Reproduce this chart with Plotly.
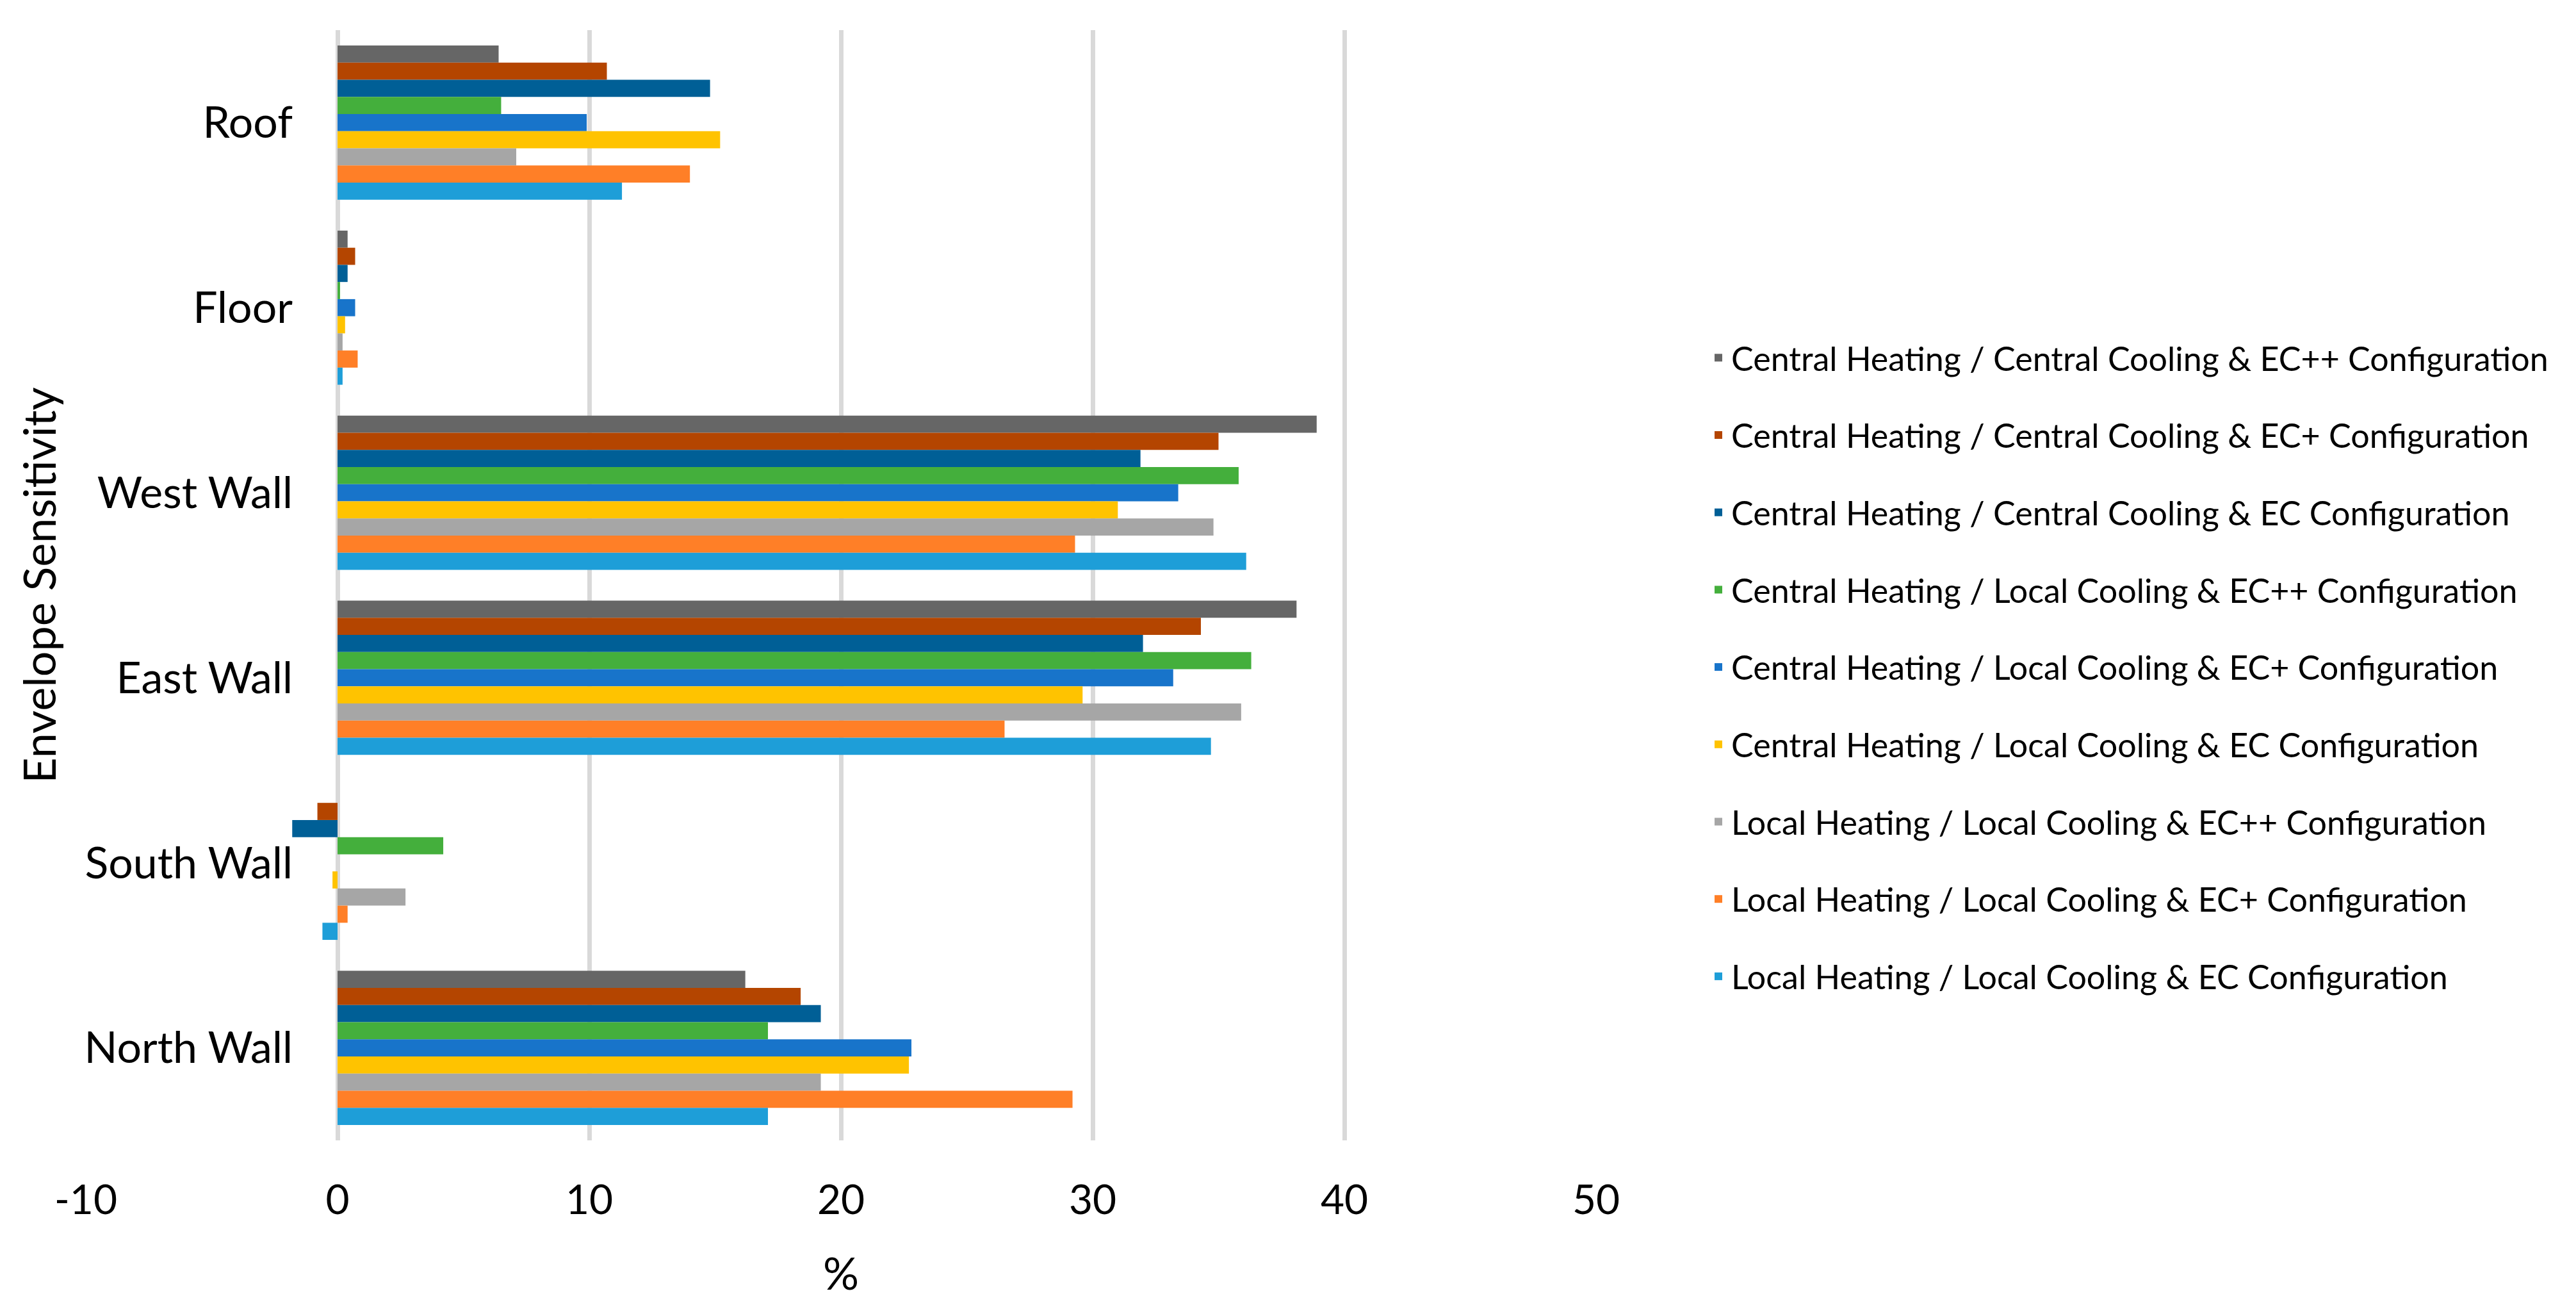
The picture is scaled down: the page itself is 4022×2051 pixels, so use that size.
import plotly.graph_objects as go

# ---- data ----
categories = ["Roof", "Floor", "West Wall", "East Wall", "South Wall", "North Wall"]

series_names = [
    "Central Heating / Central Cooling & EC++ Configuration",
    "Central Heating / Central Cooling & EC+ Configuration",
    "Central Heating / Central Cooling & EC Configuration",
    "Central Heating / Local Cooling & EC++ Configuration",
    "Central Heating / Local Cooling & EC+ Configuration",
    "Central Heating / Local Cooling & EC Configuration",
    "Local Heating / Local Cooling & EC++ Configuration",
    "Local Heating / Local Cooling & EC+ Configuration",
    "Local Heating / Local Cooling & EC Configuration",
]

ch_cc_ecpp = [6.4, 0.4, 38.9, 38.1, 0.0, 16.2]
ch_cc_ecp = [10.7, 0.7, 35.0, 34.3, -0.8, 18.4]
ch_cc_ec = [14.8, 0.4, 31.9, 32.0, -1.8, 19.2]
ch_lc_ecpp = [6.5, 0.1, 35.8, 36.3, 4.2, 17.1]
ch_lc_ecp = [9.9, 0.7, 33.4, 33.2, 0.0, 22.8]
ch_lc_ec = [15.2, 0.3, 31.0, 29.6, -0.2, 22.7]
lh_lc_ecpp = [7.1, 0.2, 34.8, 35.9, 2.7, 19.2]
lh_lc_ecp = [14.0, 0.8, 29.3, 26.5, 0.4, 29.2]
lh_lc_ec = [11.3, 0.2, 36.1, 34.7, -0.6, 17.1]

series_values = [ch_cc_ecpp, ch_cc_ecp, ch_cc_ec, ch_lc_ecpp, ch_lc_ecp,
                 ch_lc_ec, lh_lc_ecpp, lh_lc_ecp, lh_lc_ec]

colors = ["#666666", "#B44500", "#005F96", "#44AF3C", "#1874CA",
          "#FFC300", "#A6A6A6", "#FF7F27", "#1E9ED8"]

x_tickvals = [-10, 0, 10, 20, 30, 40, 50]
x_ticktext = ["-10", "0", "10", "20", "30", "40", "50"]

# ---- figure ----
W, H = 4022, 2051
FONT = "Lato"
legend_font = 52
item_h = legend_font * 1.3 + 3
row_pitch = 120.7

fig = go.Figure()
for i, (name, vals, col) in enumerate(zip(series_names, series_values, colors)):
    fig.add_trace(go.Bar(
        y=categories, x=vals, name=name, orientation="h",
        marker=dict(color=col, line=dict(width=0)),
        legendgroup=f"g{i}",
    ))

fig.update_layout(
    width=W, height=H,
    margin=dict(l=126, r=W - 2484, t=39, b=H - 1772, pad=0),
    paper_bgcolor="white", plot_bgcolor="white",
    barmode="group", bargap=0.167, bargroupgap=0,
    font=dict(family=FONT, color="#000000"),
    showlegend=True,
    legend=dict(
        x=2655 / W, xref="container", xanchor="left",
        y=1 - 510 / H, yref="container", yanchor="top",
        maxheight=1500,
        traceorder="grouped", tracegroupgap=row_pitch - item_h,
        font=dict(family=FONT, size=legend_font, color="#000000"),
        bgcolor="rgba(0,0,0,0)", borderwidth=0,
    ),
    xaxis=dict(
        range=[-10, 50], tickvals=x_tickvals, ticktext=x_ticktext,
        showgrid=True, gridcolor="#D9D9D9", gridwidth=7,
        zeroline=True, zerolinecolor="#D9D9D9", zerolinewidth=7,
        showline=False, ticks="",
        tickfont=dict(family=FONT, size=64, color="#000000"),
        ticklabelstandoff=50,
        title=dict(text="%", font=dict(family=FONT, size=70, color="#000000"), standoff=55),
    ),
    yaxis=dict(
        type="category", autorange="reversed",
        anchor="free", position=10 / 60,
        showgrid=False, zeroline=False, showline=False, ticks="",
        tickfont=dict(family=FONT, size=68, color="#000000"),
        ticklabelstandoff=70,
        title=dict(text="Envelope Sensitivity", font=dict(family=FONT, size=70, color="#000000"), standoff=20),
    ),
)

fig.write_html("out.html")
